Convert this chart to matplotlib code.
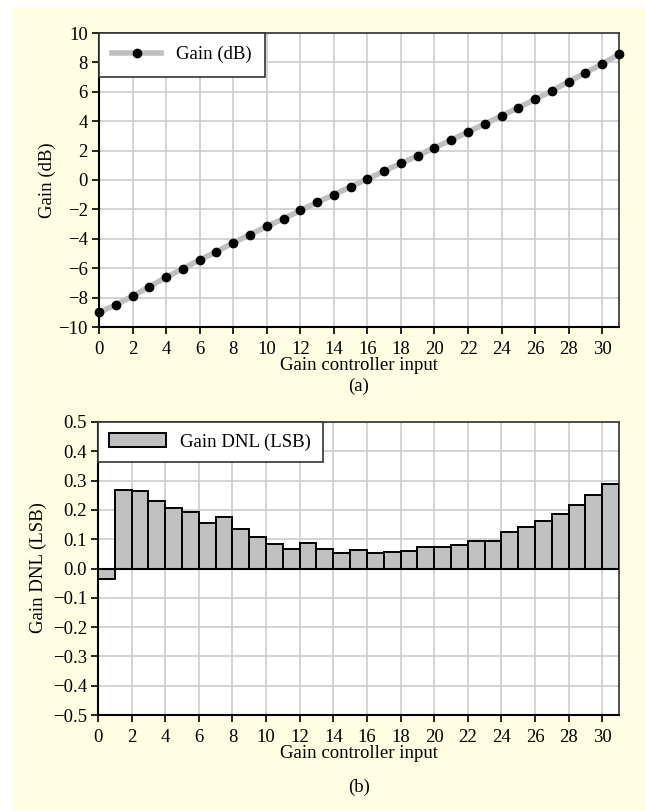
import matplotlib.pyplot as plt
from matplotlib.patches import Rectangle

plt.rcParams['font.family'] = ['Liberation Serif', 'DejaVu Serif']
plt.rcParams['font.size'] = 13.5

# gain controller input codes
codes = list(range(32))
gain_db = [-9.0, -8.5, -7.9, -7.26, -6.62, -6.03, -5.44, -4.88,
           -4.27, -3.71, -3.16, -2.64, -2.07, -1.52, -1.0, -0.46,
           0.07, 0.61, 1.14, 1.65, 2.2, 2.72, 3.27, 3.81,
           4.37, 4.92, 5.49, 6.07, 6.69, 7.28, 7.91, 8.55]

dnl_codes = list(range(31))
dnl_lsb = [-0.035, 0.269, 0.264, 0.230, 0.205, 0.192, 0.156, 0.175,
           0.135, 0.106, 0.084, 0.066, 0.087, 0.065, 0.054, 0.062,
           0.054, 0.057, 0.059, 0.072, 0.072, 0.081, 0.095, 0.093,
           0.124, 0.140, 0.162, 0.185, 0.217, 0.252, 0.288]

xticks = list(range(0, 31, 2))
gain_ticks = list(range(-10, 11, 2))
dnl_ticks = [-0.5, -0.4, -0.3, -0.2, -0.1, 0.0, 0.1, 0.2, 0.3, 0.4, 0.5]

W, H = 646, 811
fig = plt.figure(figsize=(W / 100, H / 100), dpi=100)
fig.patch.set_facecolor('white')
fig.patches.append(Rectangle((12 / W, 0), 1 - 12 / W, 1 - 7 / H,
                             transform=fig.transFigure, facecolor='#fffee2',
                             edgecolor='none', zorder=-10))


def style_axes(ax):
    ax.set_facecolor('white')
    ax.grid(True, color='#cccccc', lw=1.2)
    ax.set_axisbelow(True)
    for s in ['left', 'bottom']:
        ax.spines[s].set_color('black')
        ax.spines[s].set_linewidth(1.5)
    for s in ['top', 'right']:
        ax.spines[s].set_color('#333333')
        ax.spines[s].set_linewidth(1.2)
    ax.tick_params(direction='out', length=5, width=1.2, colors='black',
                   labelsize=13.5, pad=3)
    ax.tick_params(axis='x', pad=5)


def minus(v, fmt):
    return (fmt % v).replace('-', '\u2212')


# (a) gain curve
ax1 = fig.add_axes([99 / W, 1 - 327 / H, 520 / W, 294 / H])
style_axes(ax1)
ax1.plot(codes, gain_db, color='#bfbfbf', lw=4, marker='o', ms=6,
         mfc='black', mec='black', label='Gain (dB)', zorder=3, clip_on=False)
ax1.set_xlim(0, 31)
ax1.set_ylim(-10, 10)
ax1.set_xticks(xticks)
ax1.set_yticks(gain_ticks)
ax1.set_yticklabels([minus(v, '%d') for v in gain_ticks])
leg1 = ax1.legend(loc='upper left', bbox_to_anchor=(0, 1), borderaxespad=0,
                  fancybox=False, edgecolor='#333333', framealpha=1,
                  handlelength=2.6, borderpad=0.7, fontsize=13.5)
leg1.get_frame().set_linewidth(1.2)
fig.text(47 / W, 1 - 180 / H, 'Gain (dB)', rotation=90, ha='center',
         va='center', fontsize=13.5)
fig.text(359 / W, 1 - 366 / H, 'Gain controller input', ha='center',
         va='center', fontsize=13.5)
fig.text(359 / W, 1 - 386 / H, '(a)', ha='center', va='center',
         fontsize=13.5)

# (b) DNL bars
ax2 = fig.add_axes([98 / W, 1 - 715 / H, 521 / W, 293 / H])
style_axes(ax2)
ax2.bar(dnl_codes, dnl_lsb, width=1, align='edge', color='#c0c0c0',
        edgecolor='black', lw=1.4, label='Gain DNL (LSB)', zorder=3)
ax2.axhline(0, color='black', lw=1.5, zorder=4)
ax2.set_xlim(0, 31)
ax2.set_ylim(-0.5, 0.5)
ax2.set_xticks(xticks)
ax2.set_yticks(dnl_ticks)
ax2.set_yticklabels([minus(v, '%.1f') if v != 0 else '0.0' for v in dnl_ticks])
leg2 = ax2.legend(loc='upper left', bbox_to_anchor=(0, 1), borderaxespad=0,
                  fancybox=False, edgecolor='#333333', framealpha=1,
                  handlelength=3.0, handleheight=0.7, borderpad=0.6,
                  fontsize=13.5)
leg2.get_frame().set_linewidth(1.2)
fig.text(38 / W, 1 - 568 / H, 'Gain DNL (LSB)', rotation=90, ha='center',
         va='center', fontsize=13.5)
fig.text(359 / W, 1 - 753 / H, 'Gain controller input', ha='center',
         va='center', fontsize=13.5)
fig.text(359 / W, 1 - 787 / H, '(b)', ha='center', va='center',
         fontsize=13.5)

fig.savefig('out.png', dpi=100, facecolor=fig.get_facecolor())
